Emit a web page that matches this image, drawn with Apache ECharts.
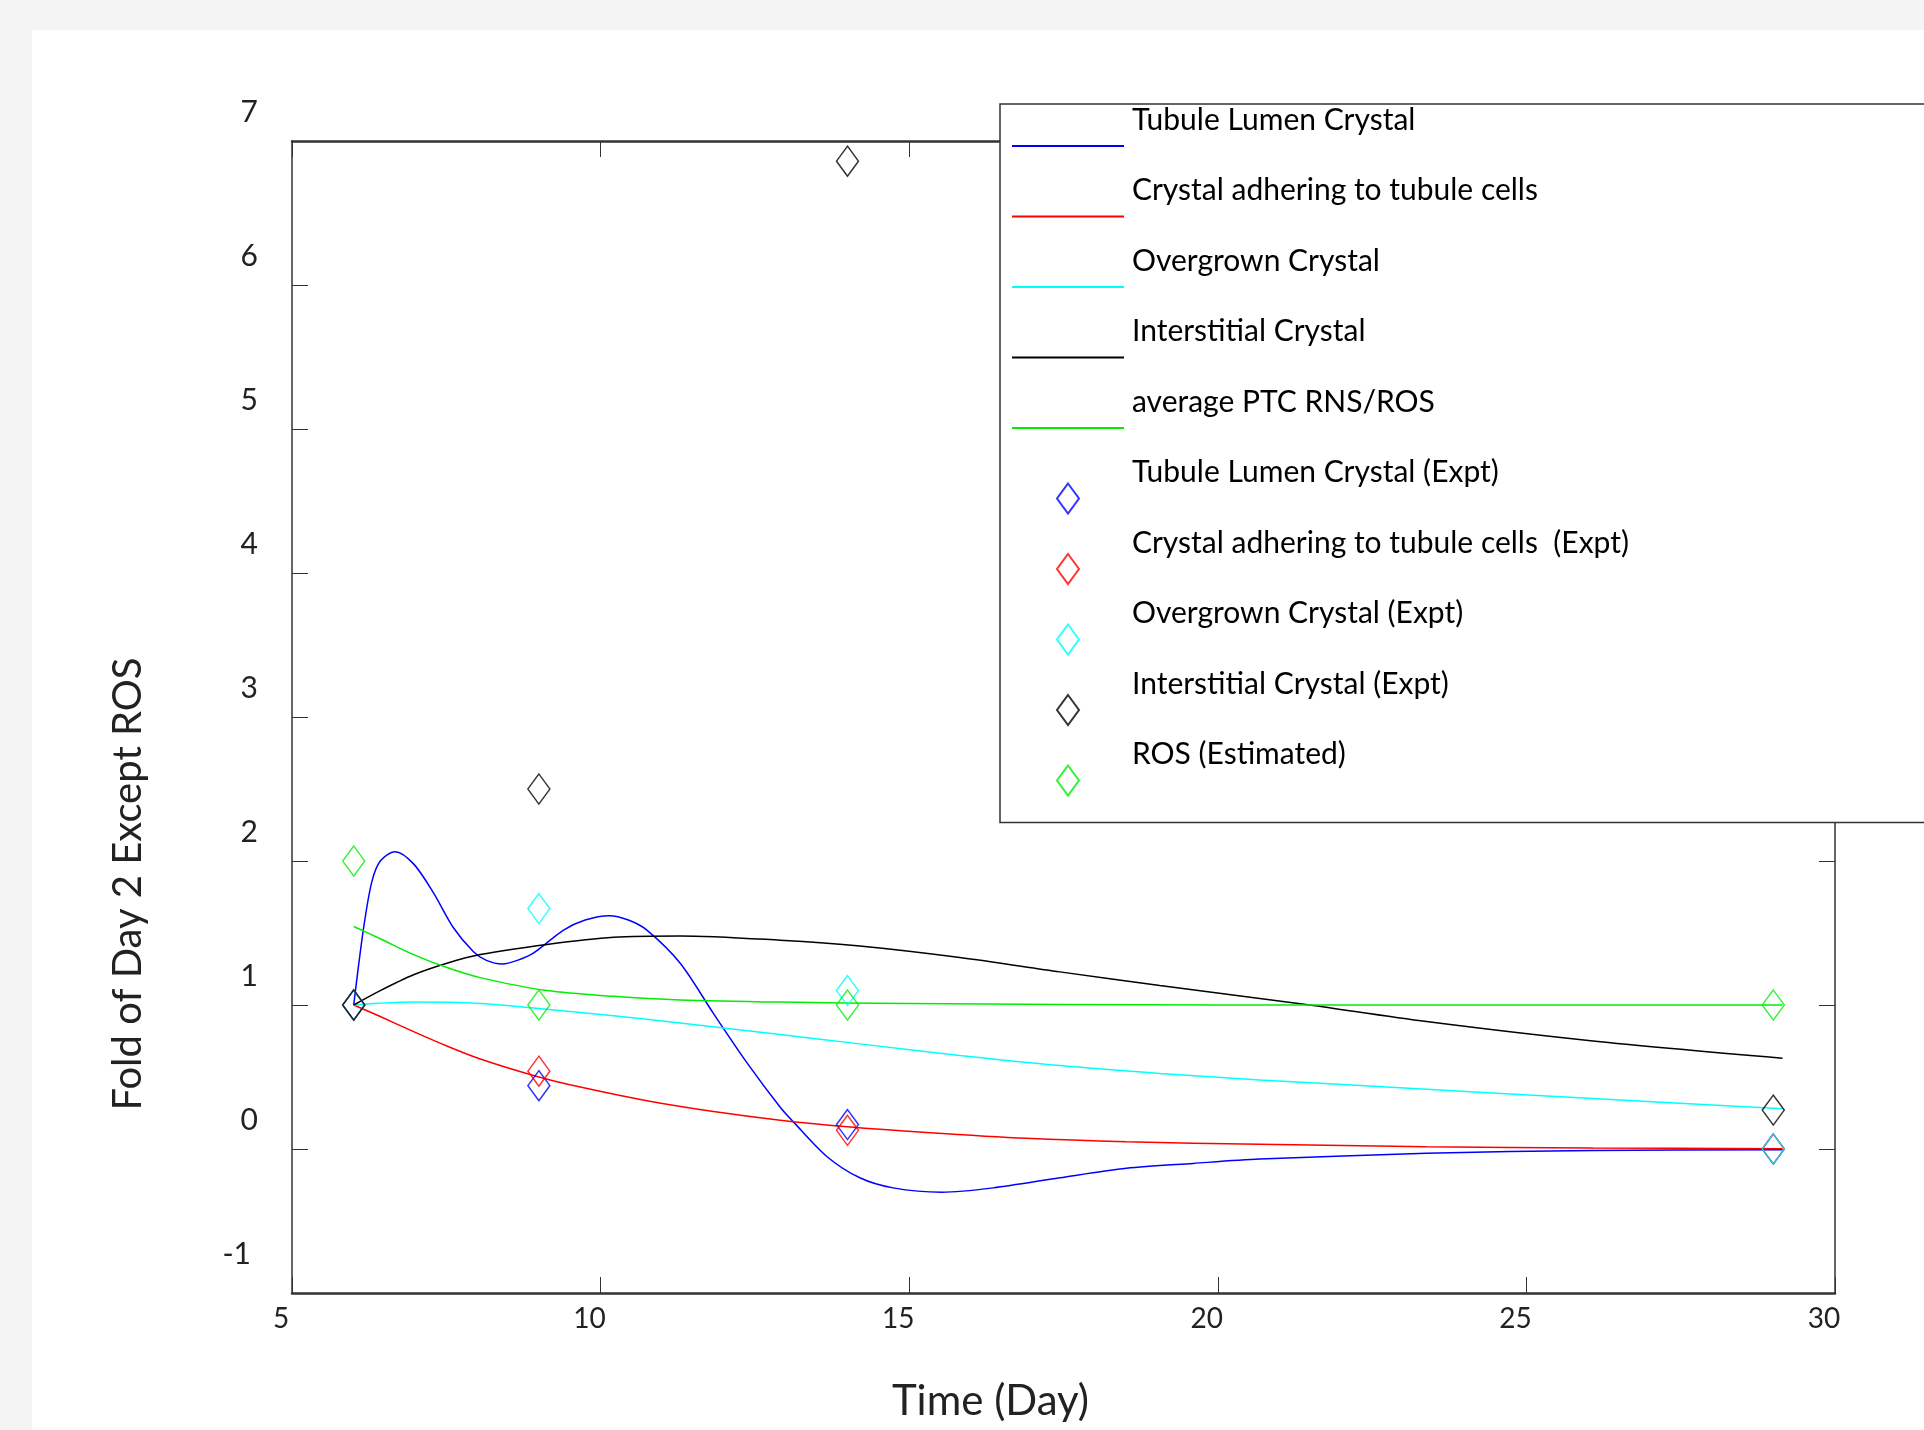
<!DOCTYPE html>
<html>
<head>
<meta charset="utf-8">
<title>Fold of Day 2 Except ROS</title>
<script src="https://cdn.jsdelivr.net/npm/echarts@6/dist/echarts.min.js"></script>
<style>
  body { margin: 0; background: #f4f4f4; }
  #main { position: absolute; left: 32px; top: 30px; width: 1892px; height: 1400px; background: #fff; }
</style>
</head>
<body>
<div id="main"></div>
<script>
// model curves (day, fold)
var lumenDays = [6, 6.155, 6.29, 6.43, 6.67, 6.97, 7.29, 7.61, 7.94, 8.15, 8.41, 8.65, 8.91, 9.4, 9.75, 10.14, 10.45, 10.75, 11.29, 11.83, 12.37, 12.91, 13.12, 13.66, 14.2, 14.74, 15.53, 16.36, 17.44, 18.52, 19.6, 20.68, 23.38, 26.08, 29.15];
var lumenFold = [1, 1.52, 1.85, 2.0, 2.065, 1.98, 1.78, 1.54, 1.37, 1.31, 1.285, 1.31, 1.36, 1.52, 1.59, 1.62, 1.59, 1.52, 1.29, 0.94, 0.6, 0.29, 0.19, -0.05, -0.2, -0.27, -0.3, -0.27, -0.2, -0.134, -0.1, -0.07, -0.03, -0.01, -0.005];

var adherDays = [6, 6.43, 6.97, 7.51, 8.05, 9, 9.67, 10.75, 11.83, 12.91, 14, 15.28, 16.9, 18.52, 20.68, 23.38, 26.08, 29.15];
var adherFold = [1, 0.92, 0.815, 0.715, 0.625, 0.5, 0.43, 0.335, 0.26, 0.2, 0.155, 0.115, 0.074, 0.05, 0.033, 0.016, 0.007, 0.002];

var overDays = [6, 6.97, 8.05, 9.13, 10.21, 11.29, 12.91, 14.2, 15.82, 17.44, 19.06, 20.68, 23.38, 26.08, 29.15];
var overFold = [1, 1.02, 1.01, 0.97, 0.925, 0.875, 0.795, 0.73, 0.65, 0.58, 0.525, 0.48, 0.415, 0.35, 0.28];

var interDays = [6, 6.43, 6.97, 7.51, 8.05, 9.13, 10.21, 11.29, 12.91, 14.2, 15.82, 17.44, 19.06, 20.68, 21.49, 23.38, 26.08, 29.15];
var interFold = [1, 1.1, 1.21, 1.29, 1.35, 1.42, 1.47, 1.48, 1.45, 1.41, 1.33, 1.23, 1.135, 1.045, 1.0, 0.885, 0.75, 0.63];

var rosDays = [6, 6.43, 6.97, 7.51, 8.05, 9.13, 10.21, 11.29, 12.91, 15, 20, 29.15];
var rosFold = [1.545, 1.46, 1.35, 1.26, 1.19, 1.1, 1.06, 1.035, 1.02, 1.01, 1.0, 1.0];

// experimental points
var exptDays = [6, 9, 14, 29];
var lumenExpt = [1, 0.44, 0.17, 0];
var adherExpt = [1, 0.54, 0.13, 0];
var overExpt = [1, 1.67, 1.1, 0];
var interExpt = [1, 2.5, 6.86, 0.27];
var rosEst = [2, 1, 1, 1];

var xTicks = [5, 10, 15, 20, 25, 30];
var yTicks = [-1, 0, 1, 2, 3, 4, 5, 6, 7];

function pairs(xs, ys) {
  return xs.map(function (x, i) { return [x, ys[i]]; });
}

var font = 'Lato';
// legend diamond: 22x30 shape inside a 112x54 frame so it keeps its size
var diamond = 'path://M0,0M112,54M56,12L67,27L56,42L45,27Z';

function curve(name, color, xs, ys) {
  return {
    name: name, type: 'line', data: pairs(xs, ys),
    symbol: 'none', smooth: 0.3,
    lineStyle: { color: color, width: 1.5 },
    itemStyle: { color: color },
    z: 2
  };
}
function points(name, color, ys) {
  return {
    name: name, type: 'scatter', data: pairs(exptDays, ys),
    symbol: 'diamond', symbolSize: [22, 30],
    itemStyle: { color: 'rgba(255,255,255,0)', borderColor: color, borderWidth: 1.5 },
    z: 3
  };
}

var myChart = echarts.init(document.getElementById('main'));

var axisCommon = {
  type: 'value',
  axisLine: { show: true, onZero: false, lineStyle: { color: '#333', width: 1.5 } },
  axisTick: { show: true, inside: true, length: 16, lineStyle: { color: '#333', width: 1 } },
  splitLine: { show: false }
};
var thickLine = { show: true, onZero: false, lineStyle: { color: '#333', width: 2.5 } };
var noDot = { opacity: 0 };

myChart.setOption({
  animation: false,
  backgroundColor: '#fff',
  grid: { left: 260, top: 111, width: 1543, height: 1152 },
  legend: {
    orient: 'vertical',
    left: 968, top: 74,
    padding: [1, 520, 14, 11],
    itemWidth: 112, itemHeight: 70, itemGap: 1.5,
    backgroundColor: '#fff',
    borderColor: '#333', borderWidth: 1.5,
    formatter: function (name) { return '{t|' + name + '}'; },
    textStyle: {
      fontFamily: font, fontSize: 30, color: '#000', padding: [0, 0, 52, 3],
      rich: { t: { fontFamily: font, fontSize: 30, color: '#000', lineHeight: 18 } }
    },
    data: [
      { name: 'Tubule Lumen Crystal', itemStyle: noDot },
      { name: 'Crystal adhering to tubule cells', itemStyle: noDot },
      { name: 'Overgrown Crystal', itemStyle: noDot },
      { name: 'Interstitial Crystal', itemStyle: noDot },
      { name: 'average PTC RNS/ROS', itemStyle: noDot },
      { name: 'Tubule Lumen Crystal (Expt)', icon: diamond },
      { name: 'Crystal adhering to tubule cells  (Expt)', icon: diamond },
      { name: 'Overgrown Crystal (Expt)', icon: diamond },
      { name: 'Interstitial Crystal (Expt)', icon: diamond },
      { name: 'ROS (Estimated)', icon: diamond }
    ]
  },
  xAxis: [
    Object.assign({}, axisCommon, {
      position: 'bottom', min: xTicks[0], max: xTicks[xTicks.length - 1], interval: 5,
      axisLine: thickLine,
      axisLabel: { fontFamily: font, fontSize: 28, color: '#222', margin: 12, padding: [0, 22, 0, 0] },
      name: 'Time (Day)', nameLocation: 'middle', nameGap: 87,
      nameTextStyle: { fontFamily: font, fontSize: 42, color: '#222', padding: [0, 146, 0, 0] }
    }),
    Object.assign({}, axisCommon, {
      position: 'top', min: xTicks[0], max: xTicks[xTicks.length - 1], interval: 5,
      axisLine: thickLine,
      axisLabel: { show: false }
    })
  ],
  yAxis: [
    Object.assign({}, axisCommon, {
      position: 'left', min: yTicks[0], max: yTicks[yTicks.length - 1], interval: 1,
      axisLabel: {
        fontFamily: font, fontSize: 30, color: '#222', margin: 34, padding: [0, 0, 58, 0],
        formatter: function (v) { return v === -1 ? '{m|-1}' : String(v); },
        rich: { m: { fontFamily: font, fontSize: 30, color: '#222', padding: [0, 7, 20, 0] } }
      },
      name: 'Fold of Day 2 Except ROS', nameLocation: 'middle', nameGap: 144,
      nameTextStyle: { fontFamily: font, fontSize: 40, color: '#222', padding: [0, 334, 0, 0] }
    }),
    Object.assign({}, axisCommon, {
      position: 'right', min: yTicks[0], max: yTicks[yTicks.length - 1], interval: 1,
      axisLabel: { show: false }
    })
  ],
  series: [
    curve('Tubule Lumen Crystal', '#0000ff', lumenDays, lumenFold),
    curve('Crystal adhering to tubule cells', '#ff0000', adherDays, adherFold),
    curve('Overgrown Crystal', '#00ffff', overDays, overFold),
    curve('Interstitial Crystal', '#000000', interDays, interFold),
    curve('average PTC RNS/ROS', '#00ee00', rosDays, rosFold),
    points('Tubule Lumen Crystal (Expt)', '#0000ff', lumenExpt),
    points('Crystal adhering to tubule cells  (Expt)', '#ff0000', adherExpt),
    points('Overgrown Crystal (Expt)', '#00ffff', overExpt),
    points('Interstitial Crystal (Expt)', '#000000', interExpt),
    points('ROS (Estimated)', '#00ee00', rosEst)
  ]
});
</script>
</body>
</html>
